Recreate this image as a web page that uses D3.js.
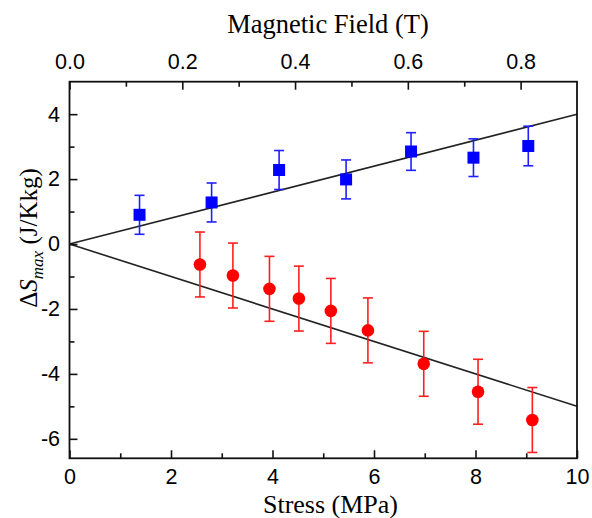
<!DOCTYPE html>
<html><head><meta charset="utf-8">
<script src="https://cdn.jsdelivr.net/npm/d3@7"></script>
<style>
html,body{margin:0;padding:0;background:#fff;}
svg{display:block;}
</style></head>
<body>
<svg id="c" width="592" height="518"></svg>
<script>
// Data
const blueStress = [1.38, 2.80, 4.13, 5.45, 6.73, 7.96, 9.04];
const blueDS     = [0.90, 1.28, 2.28, 1.99, 2.85, 2.66, 3.02];
const blueErr    = [0.60, 0.60, 0.60, 0.60, 0.58, 0.58, 0.61];
const redStress  = [2.57, 3.22, 3.94, 4.52, 5.15, 5.88, 6.98, 8.05, 9.12];
const redDS      = [-0.63, -0.97, -1.38, -1.68, -2.06, -2.66, -3.69, -4.55, -5.42];
const redErr     = [1.0, 1.0, 1.0, 1.0, 1.0, 1.0, 1.0, 1.0, 1.0];
const fitSlopes  = [0.40, -0.50];
const xTicks     = [0, 2, 4, 6, 8, 10];
const xMinor     = [1, 3, 5, 7, 9];
const topTicks   = [0.0, 0.2, 0.4, 0.6, 0.8];
const topMinor   = [0.1, 0.3, 0.5, 0.7];
const yTicks     = [-6, -4, -2, 0, 2, 4];
const yMinor     = [-5, -3, -1, 1, 3];

const L = 69.5, R = 577, T = 81.7, B = 458.3;
const x = d3.scaleLinear().domain([0, 10]).range([L, R]);
const xt = d3.scaleLinear().domain([0, 0.9]).range([L, R]);
const y = d3.scaleLinear().domain([-6.6, 5]).range([B, T]);

const svg = d3.select('#c');
const tickFont = '"Liberation Sans", Arial, sans-serif';
const titleFont = '"Liberation Serif", "Times New Roman", serif';
const hyph = f => (d => f(d).replace('\u2212', '-'));

// fit lines
const line = d3.line().x(d => x(d[0])).y(d => y(d[1]));
fitSlopes.forEach(s => {
  svg.append('path').datum([[0, 0], [10, 10 * s]])
    .attr('d', line).attr('fill', 'none')
    .attr('stroke', '#222').attr('stroke-width', 1.6);
});

function errorBars(xs, ys, es, color, cap) {
  const g = svg.append('g').attr('stroke', color).attr('stroke-width', 1.6).attr('fill', 'none');
  xs.forEach((xv, i) => {
    const cx = x(xv), y1 = y(ys[i] + es[i]), y2 = y(ys[i] - es[i]);
    g.append('line').attr('x1', cx).attr('x2', cx).attr('y1', y1).attr('y2', y2);
    g.append('line').attr('x1', cx - cap).attr('x2', cx + cap).attr('y1', y1).attr('y2', y1);
    g.append('line').attr('x1', cx - cap).attr('x2', cx + cap).attr('y1', y2).attr('y2', y2);
  });
}
errorBars(blueStress, blueDS, blueErr, '#1f1fff', 5);
errorBars(redStress, redDS, redErr, '#ff1f1f', 5);

svg.append('g').selectAll('rect').data(blueStress).join('rect')
  .attr('x', d => x(d) - 6).attr('y', (d, i) => y(blueDS[i]) - 6)
  .attr('width', 12).attr('height', 12).attr('fill', '#0000ff');
svg.append('g').selectAll('circle').data(redStress).join('circle')
  .attr('cx', d => x(d)).attr('cy', (d, i) => y(redDS[i]))
  .attr('r', 6.3).attr('fill', '#ff0000');

// axes
function styleAxis(g) {
  g.select('.domain').remove();
  g.selectAll('line').attr('stroke', '#111').attr('stroke-width', 1.6);
  g.selectAll('text').attr('fill', '#000').style('font-family', tickFont).style('font-size', '21.5px');
}
// bottom
svg.append('g').attr('transform', `translate(0,${B})`)
  .call(d3.axisBottom(x).tickValues(xTicks).tickSizeInner(-8).tickSizeOuter(0).tickPadding(10.5).tickFormat(d3.format('d')))
  .call(styleAxis);
svg.append('g').attr('transform', `translate(0,${B})`)
  .call(d3.axisBottom(x).tickValues(xMinor).tickSizeInner(-5).tickSizeOuter(0).tickFormat(''))
  .call(styleAxis);
// top
svg.append('g').attr('transform', `translate(0,${T})`)
  .call(d3.axisTop(xt).tickValues(topTicks).tickSizeInner(-8).tickSizeOuter(0).tickPadding(12.5).tickFormat(d3.format('.1f')))
  .call(styleAxis);
svg.append('g').attr('transform', `translate(0,${T})`)
  .call(d3.axisTop(xt).tickValues(topMinor).tickSizeInner(-5).tickSizeOuter(0).tickFormat(''))
  .call(styleAxis);
// left
svg.append('g').attr('transform', `translate(${L},0)`)
  .call(d3.axisLeft(y).tickValues(yTicks).tickSizeInner(-8).tickSizeOuter(0).tickPadding(9.5).tickFormat(hyph(d3.format('d'))))
  .call(styleAxis);
svg.append('g').attr('transform', `translate(${L},0)`)
  .call(d3.axisLeft(y).tickValues(yMinor).tickSizeInner(-5).tickSizeOuter(0).tickFormat(''))
  .call(styleAxis);

// frame
svg.append('rect').attr('x', L).attr('y', T).attr('width', R - L).attr('height', B - T)
  .attr('fill', 'none').attr('stroke', '#111').attr('stroke-width', 1.8);

// titles
svg.append('text').attr('x', 328).attr('y', 33).attr('text-anchor', 'middle')
  .style('font-family', titleFont).style('font-size', '26.5px').text('Magnetic Field (T)');
svg.append('text').attr('x', 330.5).attr('y', 513).attr('text-anchor', 'middle')
  .style('font-family', titleFont).style('font-size', '26px').text('Stress (MPa)');
const yt = svg.append('text').attr('transform', 'translate(37,238) rotate(-90)').attr('text-anchor', 'middle')
  .style('font-family', titleFont).style('font-size', '25px');
yt.append('tspan').text('Δ');
yt.append('tspan').style('font-style', 'italic').text('S');
yt.append('tspan').style('font-style', 'italic').style('font-size', '17px').attr('dy', 6).text('max');
yt.append('tspan').attr('dy', -6).text(' (J/Kkg)');
</script>
</body></html>
